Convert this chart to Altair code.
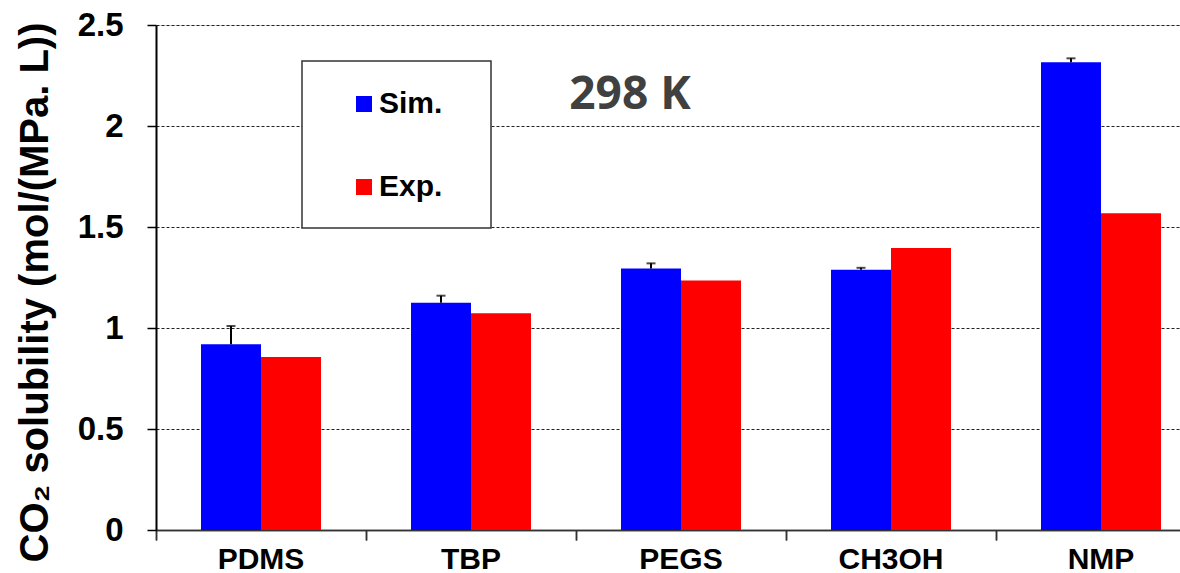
import altair as alt
import pandas as pd

solvents = ["PDMS", "TBP", "PEGS", "CH3OH", "NMP"]
series = ["Sim.", "Exp."]
colors = ["#0000FF", "#FF0000"]
sim_values = [0.92, 1.125, 1.295, 1.288, 2.315]
exp_values = [0.857, 1.073, 1.235, 1.396, 1.568]
sim_upper = [1.01, 1.16, 1.32, 1.298, 2.335]
y_ticks = [0, 0.5, 1, 1.5, 2, 2.5]
annotation = ["298 K"]
y_title = "CO₂ solubility (mol/(MPa. L))"

rows = []
for s, v in zip(solvents, sim_values):
    rows.append({"solvent": s, "series": "Sim.", "value": v})
for s, v in zip(solvents, exp_values):
    rows.append({"solvent": s, "series": "Exp.", "value": v})
df = pd.DataFrame(rows)

err = pd.DataFrame({
    "solvent": solvents,
    "series": ["Sim."] * len(solvents),
    "value": sim_values,
    "upper": sim_upper,
})

FONT = "Liberation Sans"

xscale = alt.Scale(domain=solvents, range=[0, 1050], paddingInner=0, paddingOuter=0)
xoff_scale = alt.Scale(domain=series, paddingInner=0, paddingOuter=0.75)
yscale = alt.Scale(domain=[0, 2.5], nice=False, zero=True)

yaxis = alt.Axis(values=y_ticks, format="~g", labelFont=FONT, labelFontSize=33,
                 labelFontWeight="bold", labelColor="black", labelPadding=24,
                 tickSize=9, tickColor="black", tickWidth=1.5,
                 domainColor="black", domainWidth=2,
                 grid=True, gridDash=[3, 2], gridColor="#222222", gridWidth=1,
                 titleFont=FONT, titleFontSize=40, titleFontWeight="bold",
                 titleColor="black", titleAngle=-90, titleBaseline="alphabetic",
                 titleX=-109, titleY=267, titleAlign="center")

xaxis_ticks = alt.Axis(orient="bottom", bandPosition=0, labels=False, ticks=True,
                       tickSize=10, tickColor="#333333", tickWidth=1.5,
                       domain=True, domainColor="#333333", domainWidth=1.5,
                       grid=False)

# legend frame (white box behind the legend)
box = alt.Chart(pd.DataFrame({"k": [0]})).mark_rect(
    fill="white", stroke="#333333", strokeWidth=1.5
).encode(
    x=alt.value(146), x2=alt.value(335), y=alt.value(36), y2=alt.value(203)
)

bars = alt.Chart(df).mark_bar(strokeWidth=0).encode(
    x=alt.X("solvent:N", scale=xscale, sort=solvents, title=None,
            axis=alt.Axis(orient="bottom", domain=False, ticks=False, tickSize=0,
                          labelFont=FONT, labelFontSize=30, labelFontWeight="bold",
                          labelColor="black", labelPadding=14, labelAngle=0, grid=False)),
    xOffset=alt.XOffset("series:N", scale=xoff_scale, sort=series),
    y=alt.Y("value:Q", scale=yscale, title=y_title, axis=yaxis),
    color=alt.Color("series:N", scale=alt.Scale(domain=series, range=colors),
                    legend=alt.Legend(title=None, orient="none", legendX=193, legendY=64,
                                      direction="vertical", symbolType="square",
                                      symbolSize=256, symbolStrokeWidth=0,
                                      labelFont=FONT, labelFontSize=30,
                                      labelFontWeight="bold", labelColor="black",
                                      padding=0, rowPadding=53, symbolOffset=0,
                                      labelOffset=0)),
)

rule = alt.Chart(err).mark_rule(color="black", strokeWidth=2).encode(
    x=alt.X("solvent:N", scale=xscale, sort=solvents, title=None, axis=xaxis_ticks),
    xOffset=alt.XOffset("series:N", scale=xoff_scale, sort=series),
    y=alt.Y("value:Q", scale=yscale, title=y_title, axis=yaxis),
    y2="upper:Q",
)

cap = alt.Chart(err).mark_tick(color="black", thickness=2, size=9, orient="horizontal").encode(
    x=alt.X("solvent:N", scale=xscale, sort=solvents, title=None, axis=xaxis_ticks),
    xOffset=alt.XOffset("series:N", scale=xoff_scale, sort=series),
    y=alt.Y("upper:Q", scale=yscale, title=y_title, axis=yaxis),
)

label = alt.Chart(pd.DataFrame({"label": annotation})).mark_text(
    font="Open Sans", fontWeight="bold", fontSize=46, color="#404040",
    align="center", baseline="middle",
).encode(
    text="label:N",
    x=alt.value(474),
    y=alt.value(70),
)

chart = alt.layer(bars, box, rule, cap, label).resolve_axis(x="independent").properties(
    width=1024,
    height=505,
    autosize=alt.AutoSizeParams(type="none"),
    padding={"left": 156, "top": 25, "right": 0, "bottom": 43},
).configure_view(stroke=None).configure(background="white")

chart.save("out.html", embed_options={"renderer": "svg", "actions": False})
